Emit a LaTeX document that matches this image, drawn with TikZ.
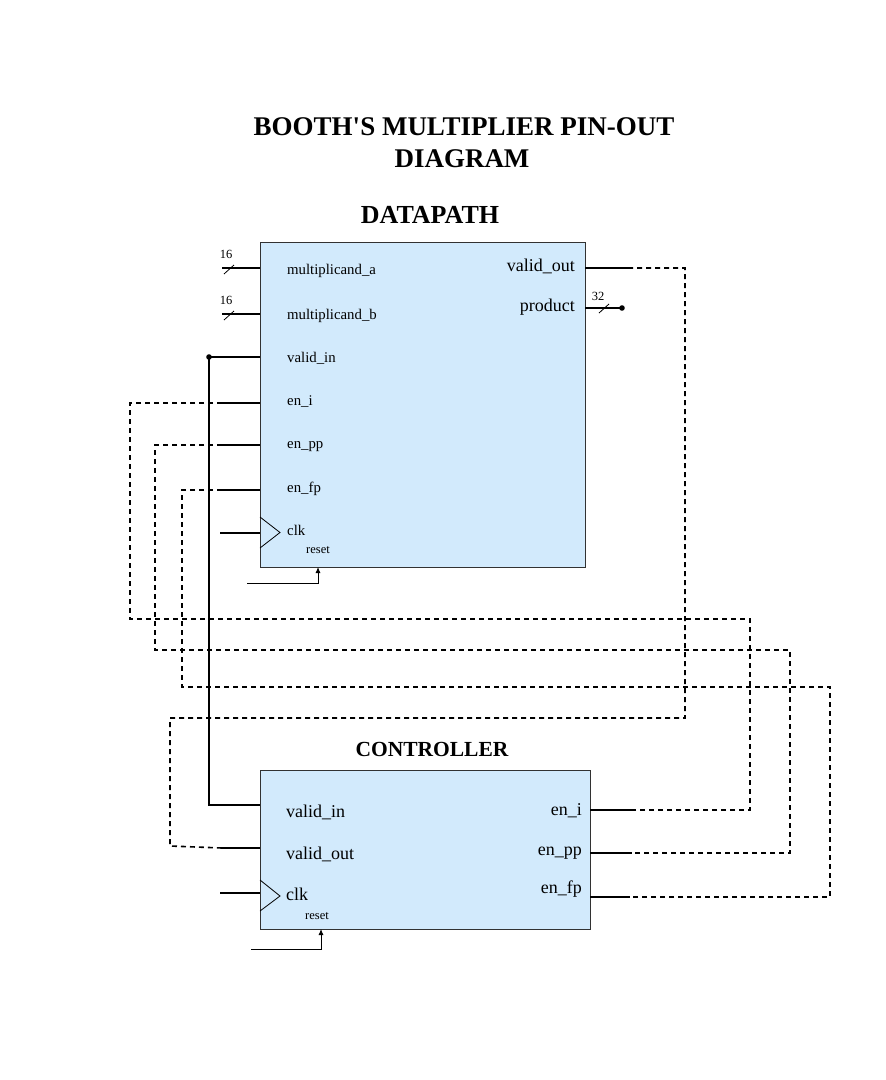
\documentclass[tikz,border=0pt]{standalone}
\usepackage{fontspec}
\setmainfont{Liberation Serif}
\usetikzlibrary{arrows.meta}
\definecolor{boxblue}{RGB}{210,234,252}
\definecolor{boxedge}{RGB}{50,50,50}
\begin{document}
\begin{tikzpicture}[x=1pt,y=-1pt,
  blockbox/.style={draw=boxedge,line width=0.8pt,fill=boxblue,anchor=north west,inner sep=0pt},
  wire/.style={line width=1.8pt},
  sig/.style={line width=1.6pt,dash pattern=on 5pt off 4pt},
  thinwire/.style={line width=0.9pt},
  slashmark/.style={line width=0.8pt},
  lblS/.style={font=\fontsize{14.8}{15}\selectfont,inner sep=0pt,anchor=base west},
  lblR/.style={font=\fontsize{18}{19}\selectfont,inner sep=0pt,anchor=base east},
  lblC/.style={font=\fontsize{18}{19}\selectfont,inner sep=0pt,anchor=base west},
  lblreset/.style={font=\fontsize{12.5}{13}\selectfont,inner sep=0pt,anchor=base west},
  buswidth/.style={font=\fontsize{12.5}{13}\selectfont,inner sep=0pt,anchor=base},
  titletext/.style={font=\bfseries\fontsize{27}{28}\selectfont,inner sep=0pt,anchor=base},
  clktri/.style={line width=0.8pt}]
\useasboundingbox (0,0) rectangle (886,1080);

% titles
\node[titletext] (t1) at (464,135) {BOOTH\textquotesingle S MULTIPLIER PIN-OUT};
\node[titletext] (t2) at (462,167) {DIAGRAM};
\node[titletext,font=\bfseries\fontsize{26}{27}\selectfont] (tdp) at (430,223) {DATAPATH};
\node[titletext,font=\bfseries\fontsize{21.5}{22}\selectfont] (tct) at (432,756) {CONTROLLER};

% blocks
\node[blockbox,minimum width=325pt,minimum height=325pt] (dp) at (260,242) {};
\node[blockbox,minimum width=330pt,minimum height=159pt] (ct) at (260,770) {};

% datapath pin labels
\node[lblS] (dpma) at (287,274) {multiplicand\_a};
\node[lblS] (dpmb) at (287,319) {multiplicand\_b};
\node[lblS] (dpvi) at (287,362) {valid\_in};
\node[lblS] (dpei) at (287,405) {en\_i};
\node[lblS] (dpep) at (287,448) {en\_pp};
\node[lblS] (dpef) at (287,492) {en\_fp};
\node[lblS] (dpclk) at (287,535) {clk};
\node[lblreset] (dprst) at (306,553) {reset};
\node[lblR] (dpvo) at (575,271) {valid\_out};
\node[lblR] (dppr) at (575,311) {product};

% controller pin labels
\node[lblC] (ctvi) at (286,817) {valid\_in};
\node[lblC] (ctvo) at (286,859) {valid\_out};
\node[lblC] (ctclk) at (286,900) {clk};
\node[lblreset] (ctrst) at (305,919) {reset};
\node[lblR] (ctei) at (582,815) {en\_i};
\node[lblR] (ctep) at (582,855) {en\_pp};
\node[lblR] (ctef) at (582,893) {en\_fp};

% pin points on block edges
\coordinate (dp-ma) at (260,268);
\coordinate (dp-mb) at (260,314);
\coordinate (dp-vi) at (260,357);
\coordinate (dp-ei) at (260,403);
\coordinate (dp-ep) at (260,445);
\coordinate (dp-ef) at (260,490);
\coordinate (dp-clk) at (260,533);
\coordinate (dp-rst) at (318,567);
\coordinate (dp-vo) at (585,268);
\coordinate (dp-pr) at (585,308);
\coordinate (ct-vi) at (260,805);
\coordinate (ct-vo) at (260,848);
\coordinate (ct-clk) at (260,893);
\coordinate (ct-rst) at (321,929);
\coordinate (ct-ei) at (590,810);
\coordinate (ct-ep) at (590,853);
\coordinate (ct-ef) at (590,897);

% stub ends
\coordinate (s-ma) at (222,268);
\coordinate (s-mb) at (222,314);
\coordinate (s-vi) at (209,357);
\coordinate (s-ei) at (222,403);
\coordinate (s-ep) at (222,445);
\coordinate (s-ef) at (222,490);
\coordinate (s-dclk) at (220,533);
\coordinate (s-drst) at (247,583);
\coordinate (s-vo) at (628,268);
\coordinate (s-pr) at (622,308);
\coordinate (s-cvo) at (222,848);
\coordinate (s-cclk) at (220,893);
\coordinate (s-crst) at (251,949);
\coordinate (s-cei) at (632,810);
\coordinate (s-cep) at (632,853);
\coordinate (s-cef) at (630,897);

% clock triangles
\draw[clktri] (260,517) -- (280,532.5) -- (260,548);
\draw[clktri] (260,880) -- (280,896) -- (260,911);

% dashed routes
\draw[sig] (s-ei) -- (130,403) -- (130,619) -- (750,619) -- (750,810) -- (s-cei);
\draw[sig] (s-ep) -- (155,445) -- (155,650) -- (790,650) -- (790,853) -- (s-cep);
\draw[sig] (s-ef) -- (182,490) -- (182,687) -- (830,687) -- (830,897) -- (s-cef);
\draw[sig] (s-vo) -- (685,268) -- (685,718) -- (170,718) -- (170,846) -- (s-cvo);

% solid stubs
\draw[wire] (s-ma) -- (dp-ma);
\draw[wire] (s-mb) -- (dp-mb);
\draw[wire] (s-vi) -- (dp-vi);
\draw[wire] (s-ei) -- (dp-ei);
\draw[wire] (s-ep) -- (dp-ep);
\draw[wire] (s-ef) -- (dp-ef);
\draw[wire] (s-dclk) -- (dp-clk);
\draw[wire] (dp-vo) -- (s-vo);
\draw[wire] (dp-pr) -- (s-pr);
\draw[wire] (s-cvo) -- (ct-vo);
\draw[wire] (s-cclk) -- (ct-clk);
\draw[wire] (ct-ei) -- (s-cei);
\draw[wire] (ct-ep) -- (s-cep);
\draw[wire] (ct-ef) -- (s-cef);

% valid_in from junction to controller
\draw[wire] (s-vi) -- (209,805) -- (ct-vi);
\fill (s-vi) circle (2.8pt);
\fill (s-pr) circle (2.8pt);

% bus width marks
\draw[slashmark] (224,274) -- (234,265);
\draw[slashmark] (224,320) -- (234,311);
\draw[slashmark] (599,313) -- (609,304);
\node[buswidth] (bw-ma) at (226,258) {16};
\node[buswidth] (bw-mb) at (226,304) {16};
\node[buswidth] (bw-pr) at (598,300) {32};

% resets
\draw[thinwire,-{Latex[length=6pt,width=5pt]}] (s-drst) -- (318,583) -- (dp-rst);
\draw[thinwire,-{Latex[length=6pt,width=5pt]}] (s-crst) -- (321,949) -- (ct-rst);
\end{tikzpicture}
\end{document}
